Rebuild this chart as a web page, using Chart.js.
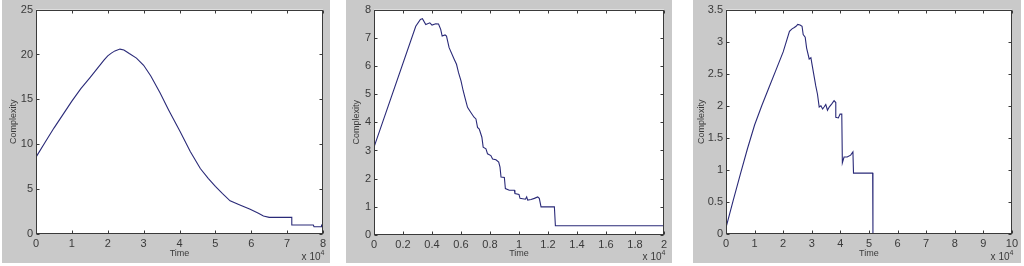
<!DOCTYPE html>
<html>
<head>
<meta charset="utf-8">
<script src="https://cdn.jsdelivr.net/npm/chart.js@4.4.1/dist/chart.umd.min.js"></script>
<style>
  html, body { margin: 0; padding: 0; background: #fff; }
  body { width: 1024px; height: 266px; position: relative; overflow: hidden; }
  canvas { position: absolute; top: 0; }
</style>
</head>
<body>
<canvas id="c1" width="328" height="263" style="left:2px"></canvas>
<canvas id="c2" width="326" height="263" style="left:346px"></canvas>
<canvas id="c3" width="328" height="263" style="left:693px"></canvas>
<script>
// time values are in units of 10^4 (as on the axes)
const time1 = [0, 0.25, 0.5, 0.75, 1.0, 1.25, 1.5, 1.7, 1.9, 2.0, 2.1, 2.2, 2.34, 2.45, 2.6, 2.8, 3.0, 3.2, 3.46, 3.7, 4.02, 4.3, 4.58, 4.8, 5.0, 5.2, 5.41, 5.7, 5.97, 6.2, 6.34, 6.5, 6.62, 7.13, 7.13, 7.73, 7.75, 7.95, 7.96, 8.0];
const comp1 = [8.56, 10.2, 11.8, 13.3, 14.8, 16.2, 17.4, 18.4, 19.4, 19.85, 20.15, 20.4, 20.6, 20.5, 20.1, 19.6, 18.8, 17.6, 15.7, 13.8, 11.4, 9.2, 7.3, 6.2, 5.3, 4.5, 3.7, 3.2, 2.75, 2.3, 2.0, 1.85, 1.85, 1.85, 1.0, 1.0, 0.8, 0.8, 1.0, 1.0];

const time2 = [0, 0.288, 0.32, 0.334, 0.357, 0.385, 0.40, 0.426, 0.445, 0.46, 0.47, 0.49, 0.50, 0.518, 0.553, 0.569, 0.583, 0.60, 0.615, 0.63, 0.645, 0.668, 0.69, 0.703, 0.714, 0.726, 0.744, 0.753, 0.772, 0.783, 0.806, 0.818, 0.841, 0.86, 0.869, 0.876, 0.899, 0.906, 0.933, 0.968, 0.972, 1.0, 1.007, 1.044, 1.053, 1.06, 1.083, 1.106, 1.129, 1.14, 1.152, 1.244, 1.251, 2.0];
const comp2 = [3.12, 7.41, 7.65, 7.68, 7.47, 7.53, 7.45, 7.5, 7.49, 7.3, 7.06, 7.1, 7.06, 6.65, 6.24, 6.06, 5.76, 5.47, 5.12, 4.82, 4.53, 4.35, 4.18, 4.12, 3.82, 3.76, 3.47, 3.12, 3.06, 2.88, 2.82, 2.7, 2.67, 2.59, 2.41, 2.06, 2.04, 1.65, 1.59, 1.59, 1.47, 1.44, 1.3, 1.27, 1.35, 1.24, 1.26, 1.3, 1.35, 1.3, 1.0, 1.0, 0.33, 0.33];

const time3 = [0, 0.25, 0.5, 0.75, 1.0, 1.25, 1.5, 1.75, 2.0, 2.22, 2.31, 2.39, 2.45, 2.51, 2.59, 2.66, 2.7, 2.77, 2.82, 2.91, 2.97, 3.0, 3.09, 3.14, 3.2, 3.26, 3.32, 3.38, 3.43, 3.49, 3.55, 3.61, 3.7, 3.78, 3.84, 3.84, 3.93, 3.99, 4.05, 4.07, 4.13, 4.24, 4.36, 4.44, 4.46, 5.13, 5.14, 10];
const comp3 = [0.1, 0.52, 0.93, 1.33, 1.70, 2.0, 2.28, 2.56, 2.84, 3.16, 3.2, 3.22, 3.24, 3.27, 3.26, 3.24, 3.11, 3.07, 2.9, 2.73, 2.75, 2.67, 2.44, 2.31, 2.18, 1.98, 2.0, 1.95, 1.98, 2.02, 1.93, 1.98, 2.03, 2.08, 2.05, 1.82, 1.81, 1.87, 1.87, 1.11, 1.2, 1.2, 1.23, 1.28, 0.95, 0.95, 0, 0];

const xTicks1 = [0, 1, 2, 3, 4, 5, 6, 7, 8];
const yTicks1 = [0, 5, 10, 15, 20, 25];
const xTicks2 = [0, 0.2, 0.4, 0.6, 0.8, 1, 1.2, 1.4, 1.6, 1.8, 2];
const yTicks2 = [0, 1, 2, 3, 4, 5, 6, 7, 8];
const xTicks3 = [0, 1, 2, 3, 4, 5, 6, 7, 8, 9, 10];
const yTicks3 = [0, 0.5, 1, 1.5, 2, 2.5, 3, 3.5];

const FONT = "'Liberation Sans', Arial, sans-serif";
const TXT = '#3a3a3a';

const framePlugin = {
  id: 'frame',
  beforeDraw(chart) {
    const ctx = chart.ctx, a = chart.chartArea;
    ctx.save();
    ctx.fillStyle = '#c9c9c9';
    ctx.fillRect(0, 0, chart.width, chart.height);
    ctx.fillStyle = '#fff';
    ctx.fillRect(a.left, a.top, a.right - a.left, a.bottom - a.top);
    ctx.restore();
  },
  afterDraw(chart) {
    const ctx = chart.ctx, a = chart.chartArea;
    const xs = chart.scales.x, ys = chart.scales.y;
    const L = Math.round(a.left) + 0.5, R = Math.round(a.right) - 0.5;
    const T = Math.round(a.top) + 0.5, B = Math.round(a.bottom) - 0.5;
    ctx.save();
    ctx.strokeStyle = '#3a3a3a';
    ctx.lineWidth = 1;
    ctx.strokeRect(L, T, R - L, B - T);
    ctx.beginPath();
    xs.ticks.forEach(t => {
      const px = Math.round(xs.getPixelForValue(t.value)) + 0.5;
      ctx.moveTo(px, B); ctx.lineTo(px, B - 3);
      ctx.moveTo(px, T); ctx.lineTo(px, T + 3);
    });
    ys.ticks.forEach(t => {
      const py = Math.round(ys.getPixelForValue(t.value)) + 0.5;
      ctx.moveTo(L, py); ctx.lineTo(L + 3, py);
      ctx.moveTo(R, py); ctx.lineTo(R - 3, py);
    });
    ctx.stroke();
    // exponent label
    ctx.fillStyle = TXT;
    ctx.textBaseline = 'alphabetic';
    ctx.textAlign = 'right';
    ctx.font = '7px ' + FONT;
    const ex = R + 2, ey = chart.height - 3;
    ctx.fillText('4', ex, ey - 5);
    ctx.font = '10px ' + FONT;
    ctx.fillText('x 10', ex - 4, ey);
    ctx.restore();
  }
};

function makeChart(id, times, values, xTicks, yTicks, box) {
  const pts = times.map((t, i) => ({ x: t * 1e4, y: values[i] }));
  const xt = xTicks.map(v => v * 1e4);
  return new Chart(document.getElementById(id), {
    type: 'line',
    data: { datasets: [{ data: pts, borderColor: '#2a2a78', borderWidth: 1.1, pointRadius: 0, tension: 0, fill: false }] },
    options: {
      responsive: false,
      animation: false,
      layout: { padding: { left: 0, right: box.right, top: box.top, bottom: 0 } },
      plugins: { legend: { display: false }, tooltip: { enabled: false } },
      scales: {
        x: {
          type: 'linear', min: xt[0], max: xt[xt.length - 1],
          afterBuildTicks: s => { s.ticks = xt.map(v => ({ value: v })); },
          afterFit: s => { s.height = box.xh; },
          grid: { display: false, drawTicks: false },
          border: { display: false },
          ticks: { callback: v => String(+(v / 1e4).toFixed(2)), padding: 3, maxRotation: 0, autoSkip: false, color: TXT, font: { family: FONT, size: 11 } },
          title: { display: true, text: 'Time', color: TXT, padding: { top: 0, bottom: 4 }, font: { family: FONT, size: 9 } }
        },
        y: {
          type: 'linear', min: yTicks[0], max: yTicks[yTicks.length - 1],
          afterBuildTicks: s => { s.ticks = yTicks.map(v => ({ value: v })); },
          afterFit: s => { s.width = box.yw; },
          grid: { display: false, drawTicks: false },
          border: { display: false },
          ticks: { callback: v => String(+v.toFixed(2)), padding: 3, autoSkip: false, color: TXT, font: { family: FONT, size: 11 } },
          title: { display: true, text: 'Complexity', color: TXT, padding: { top: box.tp, bottom: 0 }, font: { family: FONT, size: 9 } }
        }
      }
    },
    plugins: [framePlugin]
  });
}

makeChart('c1', time1, comp1, xTicks1, yTicks1, { yw: 34, xh: 29, right: 7, top: 9, tp: 6 });
makeChart('c2', time2, comp2, xTicks2, yTicks2, { yw: 28, xh: 28, right: 8, top: 8, tp: 5 });
makeChart('c3', time3, comp3, xTicks3, yTicks3, { yw: 33, xh: 29, right: 7, top: 8, tp: 3 });
</script>
</body>
</html>
